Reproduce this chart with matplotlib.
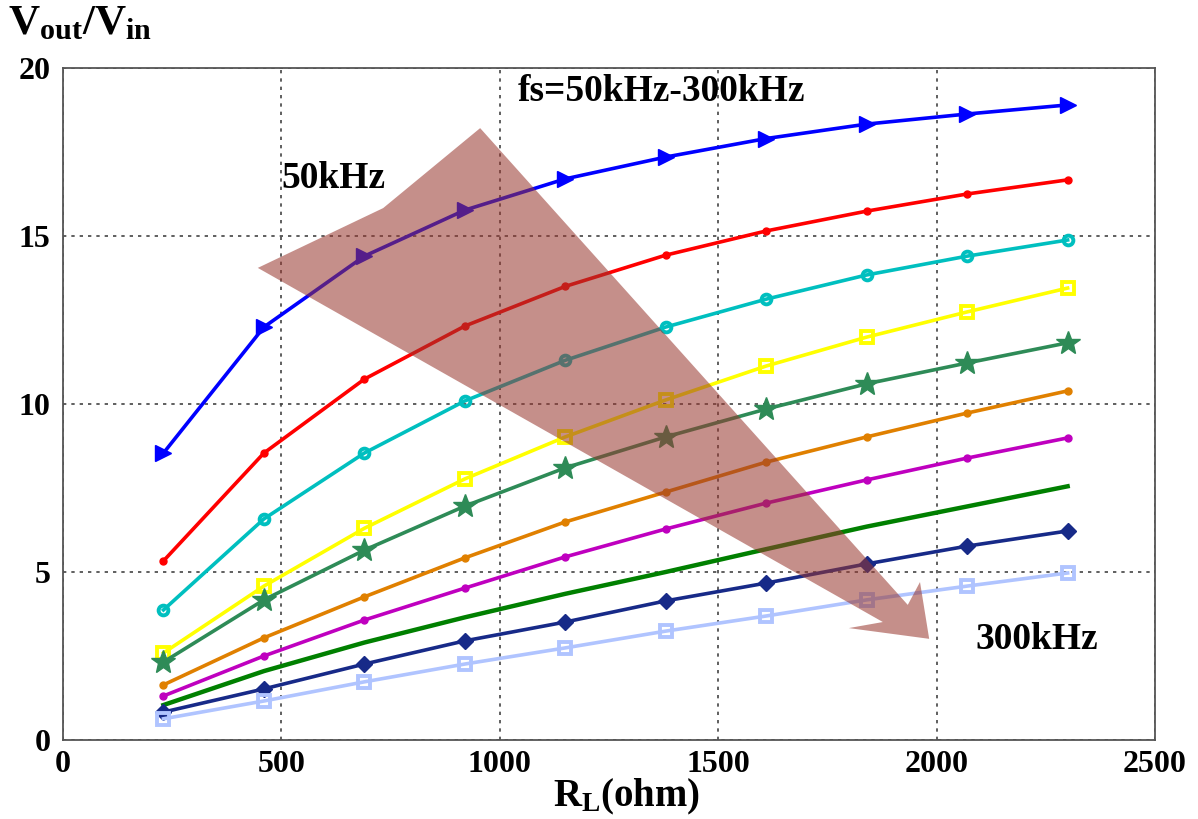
import matplotlib
matplotlib.use('Agg')
import matplotlib.pyplot as plt
from matplotlib.patches import Polygon

plt.rcParams['font.family'] = ['Liberation Serif', 'DejaVu Serif']
plt.rcParams['font.weight'] = 'bold'
plt.rcParams['mathtext.fontset'] = 'custom'
plt.rcParams['mathtext.rm'] = 'Liberation Serif:bold'
plt.rcParams['mathtext.bf'] = 'Liberation Serif:bold'
plt.rcParams['mathtext.it'] = 'Liberation Serif:bold'

# load resistance (ohm)
rl = [230, 460, 690, 920, 1150, 1380, 1610, 1840, 2070, 2300]

# gain curves, 50kHz (top) ... 300kHz (bottom)
g1 = [8.54, 12.29, 14.40, 15.77, 16.70, 17.35, 17.90, 18.33, 18.63, 18.90]
g2 = [5.33, 8.54, 10.74, 12.32, 13.50, 14.43, 15.15, 15.74, 16.25, 16.67]
g3 = [3.87, 6.58, 8.54, 10.09, 11.30, 12.29, 13.12, 13.84, 14.40, 14.88]
g4 = [2.59, 4.58, 6.30, 7.77, 9.02, 10.12, 11.13, 11.99, 12.74, 13.45]
g5 = [2.32, 4.17, 5.65, 6.96, 8.10, 9.02, 9.85, 10.60, 11.22, 11.82]
g6 = [1.64, 3.04, 4.26, 5.42, 6.49, 7.38, 8.27, 9.02, 9.73, 10.39]
g7 = [1.31, 2.50, 3.57, 4.52, 5.45, 6.28, 7.05, 7.74, 8.39, 8.99]
g8 = [1.04, 2.05, 2.90, 3.65, 4.35, 5.00, 5.68, 6.35, 6.95, 7.55]
g9 = [0.83, 1.52, 2.26, 2.95, 3.51, 4.14, 4.67, 5.24, 5.77, 6.22]
g10 = [0.63, 1.16, 1.73, 2.26, 2.74, 3.24, 3.69, 4.17, 4.58, 4.97]

# big arrow outline (data coords)
arrow_x = [446, 733, 955, 1934, 1962, 1983, 1799, 1877]
arrow_y = [14.05, 15.83, 18.21, 4.02, 4.70, 3.01, 3.33, 3.51]

fig = plt.figure(figsize=(11.98, 8.19), dpi=100)
ax = fig.add_axes([0.0526, 0.0965, 0.9115, 0.8205])

lw = 2.6
ax.plot(rl, g1, color='#0000FF', lw=lw, marker='>', ms=11)
ax.plot(rl, g2, color='#FF0000', lw=lw, marker='.', ms=10)
ax.plot(rl, g3, color='#00BFBF', lw=lw, marker='o', ms=7, mfc='none', mew=2.8)
ax.plot(rl, g4, color='#FFFF00', lw=lw, marker='s', ms=8, mfc='none', mew=2.8)
ax.plot(rl, g5, color='#2E8B57', lw=lw, marker='*', ms=18)
ax.plot(rl, g6, color='#E08000', lw=lw, marker='.', ms=10)
ax.plot(rl, g7, color='#BF00BF', lw=lw, marker='.', ms=10)
ax.plot(rl, g8, color='#008000', lw=3.2)
ax.plot(rl, g9, color='#172A88', lw=lw, marker='D', ms=8)
ax.plot(rl, g10, color='#B0C4FF', lw=lw, marker='s', ms=8, mfc='none', mew=2.8)

arrow = Polygon(list(zip(arrow_x, arrow_y)), closed=True,
                facecolor='#98372F', edgecolor='none', alpha=0.56, zorder=5)
ax.add_patch(arrow)

ax.text(501, 16.7, '50kHz', fontsize=27, fontweight='bold', va='center')
ax.text(1042, 19.3, 'fs=50kHz-300kHz', fontsize=27, fontweight='bold', va='center')
ax.text(2088, 2.98, '300kHz', fontsize=27, fontweight='bold', va='center')

ax.set_xlim(0, 2500)
ax.set_ylim(0, 20)
ax.set_xticks([0, 500, 1000, 1500, 2000, 2500])
ax.set_yticks([0, 5, 10, 15, 20])
ax.grid(True, color='#444444', linestyle=(0, (2, 3)), linewidth=1.2)
ax.tick_params(length=0, labelsize=23, pad=9)
ax.tick_params(axis='x', pad=7)
for lab in ax.get_xticklabels() + ax.get_yticklabels():
    lab.set_fontweight('bold')
for s in ax.spines.values():
    s.set_color('#555555')
    s.set_linewidth(1.3)

fig.text(627 / 1198, 1 - 797 / 819, r'$\mathbf{R_L(ohm)}$', fontsize=28,
         ha='center', va='center')
fig.text(0.007, 1 - 34 / 819, r'$\mathbf{V_{out}/V_{in}}$', fontsize=31,
         va='baseline', ha='left')

fig.savefig('out.png', dpi=100)
